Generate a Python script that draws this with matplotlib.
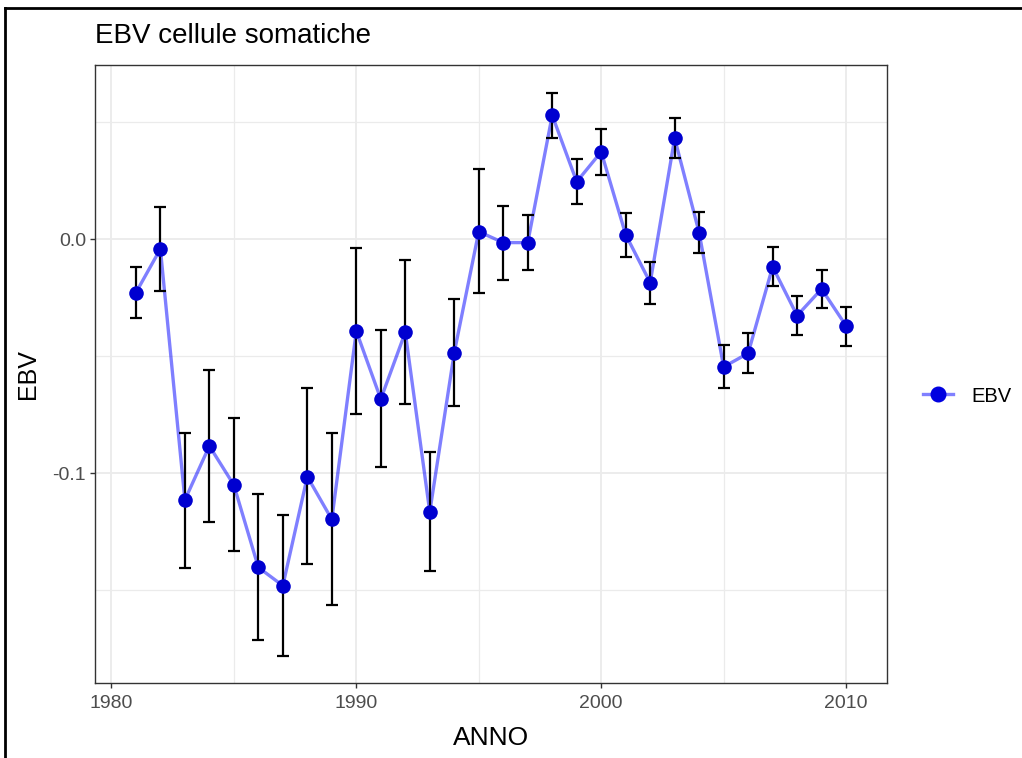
import matplotlib
matplotlib.use("Agg")
import matplotlib.pyplot as plt
from matplotlib.lines import Line2D
import numpy as np

years = list(range(1981, 2011))
ebv = [-0.0228, -0.0041, -0.1114, -0.0883, -0.1050, -0.1402, -0.1480, -0.1014, -0.1197, -0.0392,
       -0.0683, -0.0397, -0.1165, -0.0484, 0.0033, -0.0014, -0.0014, 0.0530, 0.0246, 0.0374,
       0.0020, -0.0185, 0.0432, 0.0028, -0.0545, -0.0487, -0.0117, -0.0326, -0.0212, -0.0370]
upper = [-0.0120, 0.0139, -0.0826, -0.0559, -0.0765, -0.1088, -0.1178, -0.0637, -0.0826, -0.0036,
         -0.0389, -0.0090, -0.0909, -0.0253, 0.0299, 0.0144, 0.0104, 0.0625, 0.0342, 0.0473,
         0.0114, -0.0097, 0.0520, 0.0118, -0.0452, -0.0402, -0.0033, -0.0242, -0.0130, -0.0288]
lower = [-0.0336, -0.0221, -0.1403, -0.1208, -0.1332, -0.1712, -0.1781, -0.1386, -0.1563, -0.0745,
         -0.0975, -0.0702, -0.1418, -0.0711, -0.0228, -0.0172, -0.0133, 0.0433, 0.0151, 0.0276,
         -0.0077, -0.0278, 0.0349, -0.0060, -0.0637, -0.0571, -0.0200, -0.0409, -0.0295, -0.0455]

title = "EBV cellule somatiche"
xlabel = "ANNO"
ylabel = "EBV"
legend_label = "EBV"
xticks = [1980, 1990, 2000, 2010]
yticks = [-0.1, 0.0]
ytick_labels = ["-0.1", "0.0"]

FONT = ['Liberation Sans', 'DejaVu Sans']
plt.rcParams['font.family'] = FONT

W, H = 1022, 758
fig = plt.figure(figsize=(W / 100, H / 100), dpi=100)
L, R, T, B = 95, 887, 65, 683
ax = fig.add_axes([L / W, 1 - B / H, (R - L) / W, (B - T) / H])

ax.set_xlim(1979.33, 2011.67)
ax.set_ylim(-0.1896, 0.0745)

# grid
for v in [1985, 1995, 2005]:
    ax.axvline(v, color='#EBEBEB', lw=0.9, zorder=0)
for v in xticks:
    ax.axvline(v, color='#EBEBEB', lw=1.3, zorder=0)
for v in [-0.15, -0.05, 0.05]:
    ax.axhline(v, color='#EBEBEB', lw=0.9, zorder=0)
for v in yticks:
    ax.axhline(v, color='#EBEBEB', lw=1.3, zorder=0)

y = np.array(ebv)
yerr = np.array([y - np.array(lower), np.array(upper) - y])
ax.plot(years, ebv, color='#0000FF', alpha=0.5, lw=2.4, zorder=2)
ax.errorbar(years, ebv, yerr=yerr, fmt='none', ecolor='black', elinewidth=1.6,
            capsize=4.6, capthick=1.6, zorder=3)
ax.plot(years, ebv, 'o', color='#0000D0', markersize=10.5, markeredgewidth=0, zorder=4)

ax.set_xticks(xticks)
ax.set_yticks(yticks)
ax.set_yticklabels(ytick_labels)
ax.tick_params(axis='both', colors='#333333', length=3.5, width=1.0, labelcolor='#4D4D4D',
               labelsize=14)
ax.tick_params(axis='x', pad=5.5)
ax.tick_params(axis='y', pad=3)
for sp in ax.spines.values():
    sp.set_color('#333333')
    sp.set_linewidth(1.0)

ax.set_xlabel(xlabel, fontsize=19, color='black', labelpad=10)
ax.set_ylabel(ylabel, fontsize=18, color='black', labelpad=9)
fig.text(95 / W, 1 - 36 / H, title, fontsize=20, ha='left', va='center', color='black')

line_h = Line2D([0], [0], color='#8080FF', lw=2.4, marker='o', markerfacecolor='#0000E0',
                markeredgecolor='#0000E0', markersize=10.5)
leg = fig.legend([line_h], [legend_label], loc='center left',
                 bbox_to_anchor=(905 / W, 1 - 396 / H), frameon=False, fontsize=14.5,
                 handlelength=1.5, handletextpad=0.9)

# outer border (cropped frame)
fig.add_artist(Line2D([5 / W, 5 / W], [0, 1 - 8 / H], color='black', lw=2.0,
                      transform=fig.transFigure))
fig.add_artist(Line2D([5 / W, 1], [1 - 8 / H, 1 - 8 / H], color='black', lw=2.0,
                      transform=fig.transFigure))

fig.savefig('out.png', dpi=100)
